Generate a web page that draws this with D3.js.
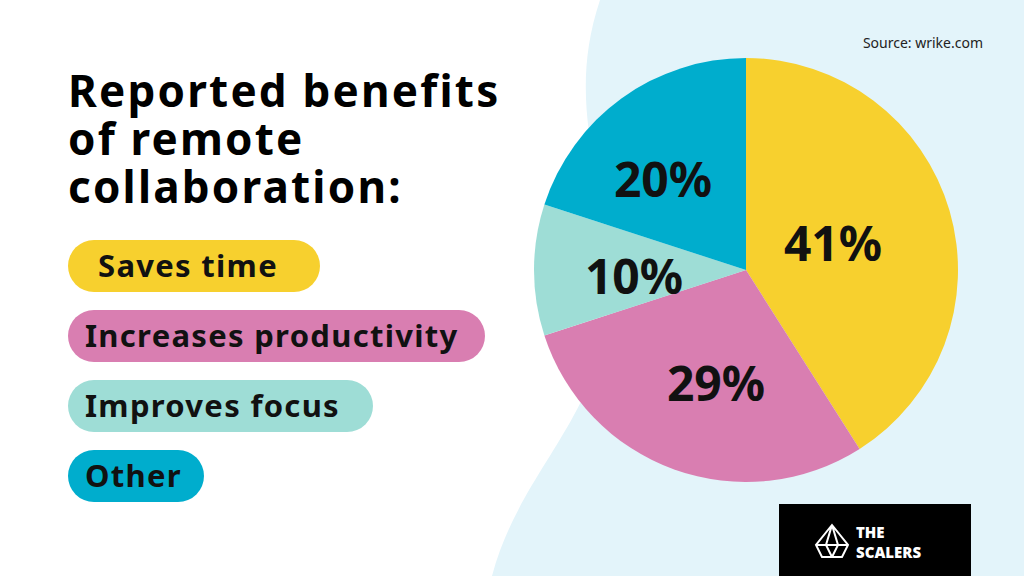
<!DOCTYPE html>
<html lang="en">
<head>
<script src="https://d3js.org/d3.v7.min.js"></script>
<style>
  body { margin: 0; background: #fff; }
  text { font-family: "Noto Sans", "Open Sans", sans-serif; }
</style>
</head>
<body>
<script>
// chart data
var categories = ["Saves time", "Increases productivity", "Improves focus", "Other"];
var values = [41, 29, 10, 20];
var colors = ["#F7D02E", "#D97EB1", "#9EDDD6", "#00ADCD"];
var titleLines = ["Reported benefits", "of remote", "collaboration:"];

var svg = d3.select("body").append("svg")
    .attr("width", 1024)
    .attr("height", 576);

// light blue background blob on the right
svg.append("path")
    .attr("d", "M600,0 L1024,0 L1024,576 L492,576 C520,470 600,420 610,300 C618,200 560,120 600,0 Z")
    .attr("fill", "#E3F4FA");

svg.append("text")
    .attr("x", 983).attr("y", 48)
    .attr("text-anchor", "end")
    .attr("font-size", 14).attr("fill", "#222")
    .text("Source: wrike.com");

// title
svg.selectAll(".title").data(titleLines).enter().append("text")
    .attr("x", 68)
    .attr("y", function (d, i) { return 107 + i * 48; })
    .attr("font-size", 44).attr("font-weight", 700).attr("fill", "#000")
    .attr("letter-spacing", 2.2)
    .text(function (d) { return d; });

// legend pills
var pillWidths = [252, 417, 305, 136];
var legend = svg.selectAll(".pill").data(categories).enter().append("g")
    .attr("transform", function (d, i) { return "translate(68," + (240 + i * 70) + ")"; });
legend.append("rect")
    .attr("width", function (d, i) { return pillWidths[i]; })
    .attr("height", 52).attr("rx", 26)
    .attr("fill", function (d, i) { return colors[i]; });
legend.append("text")
    .attr("x", function (d, i) { return i == 0 ? 30 : 17; })
    .attr("y", 37)
    .attr("font-size", 31).attr("font-weight", 700).attr("fill", "#111")
    .attr("letter-spacing", 1.3)
    .text(function (d) { return d; });

// pie
var cx = 746, cy = 270, r = 212;
var pie = d3.pie().sort(null)(values);
var arc = d3.arc().innerRadius(0).outerRadius(r);
var g = svg.append("g").attr("transform", "translate(" + cx + "," + cy + ")");
g.selectAll("path").data(pie).enter().append("path")
    .attr("d", arc)
    .attr("fill", function (d, i) { return colors[i]; });

var labelPos = [[87, -28], [-30, 112], [-112, 5], [-83, -92]];
g.selectAll(".lbl").data(pie).enter().append("text")
    .attr("x", function (d, i) { return labelPos[i][0]; })
    .attr("y", function (d, i) { return labelPos[i][1]; })
    .attr("text-anchor", "middle").attr("dominant-baseline", "central")
    .attr("font-size", 48).attr("font-weight", 700).attr("fill", "#111")
    .text(function (d) { return d.data + "%"; });

// logo box
svg.append("rect").attr("x", 779).attr("y", 504).attr("width", 192).attr("height", 72).attr("fill", "#000");
var logo = svg.append("g").attr("transform", "translate(814,523)");
logo.append("path")
    .attr("d", "M18,2 L34,22 L28,34 L8,34 L2,22 Z M2,22 L34,22 M18,2 L12,22 L18,34 M18,2 L24,22 L18,34")
    .attr("fill", "none").attr("stroke", "#fff").attr("stroke-width", 2);
logo.append("text").attr("x", 42).attr("y", 15)
    .attr("font-size", 15).attr("font-weight", 900).attr("fill", "#fff")
    .attr("font-family", "'DejaVu Sans Condensed', sans-serif").text("THE");
logo.append("text").attr("x", 42).attr("y", 35)
    .attr("font-size", 15).attr("font-weight", 900).attr("fill", "#fff")
    .attr("font-family", "'DejaVu Sans Condensed', sans-serif").text("SCALERS");
</script>
</body>
</html>
